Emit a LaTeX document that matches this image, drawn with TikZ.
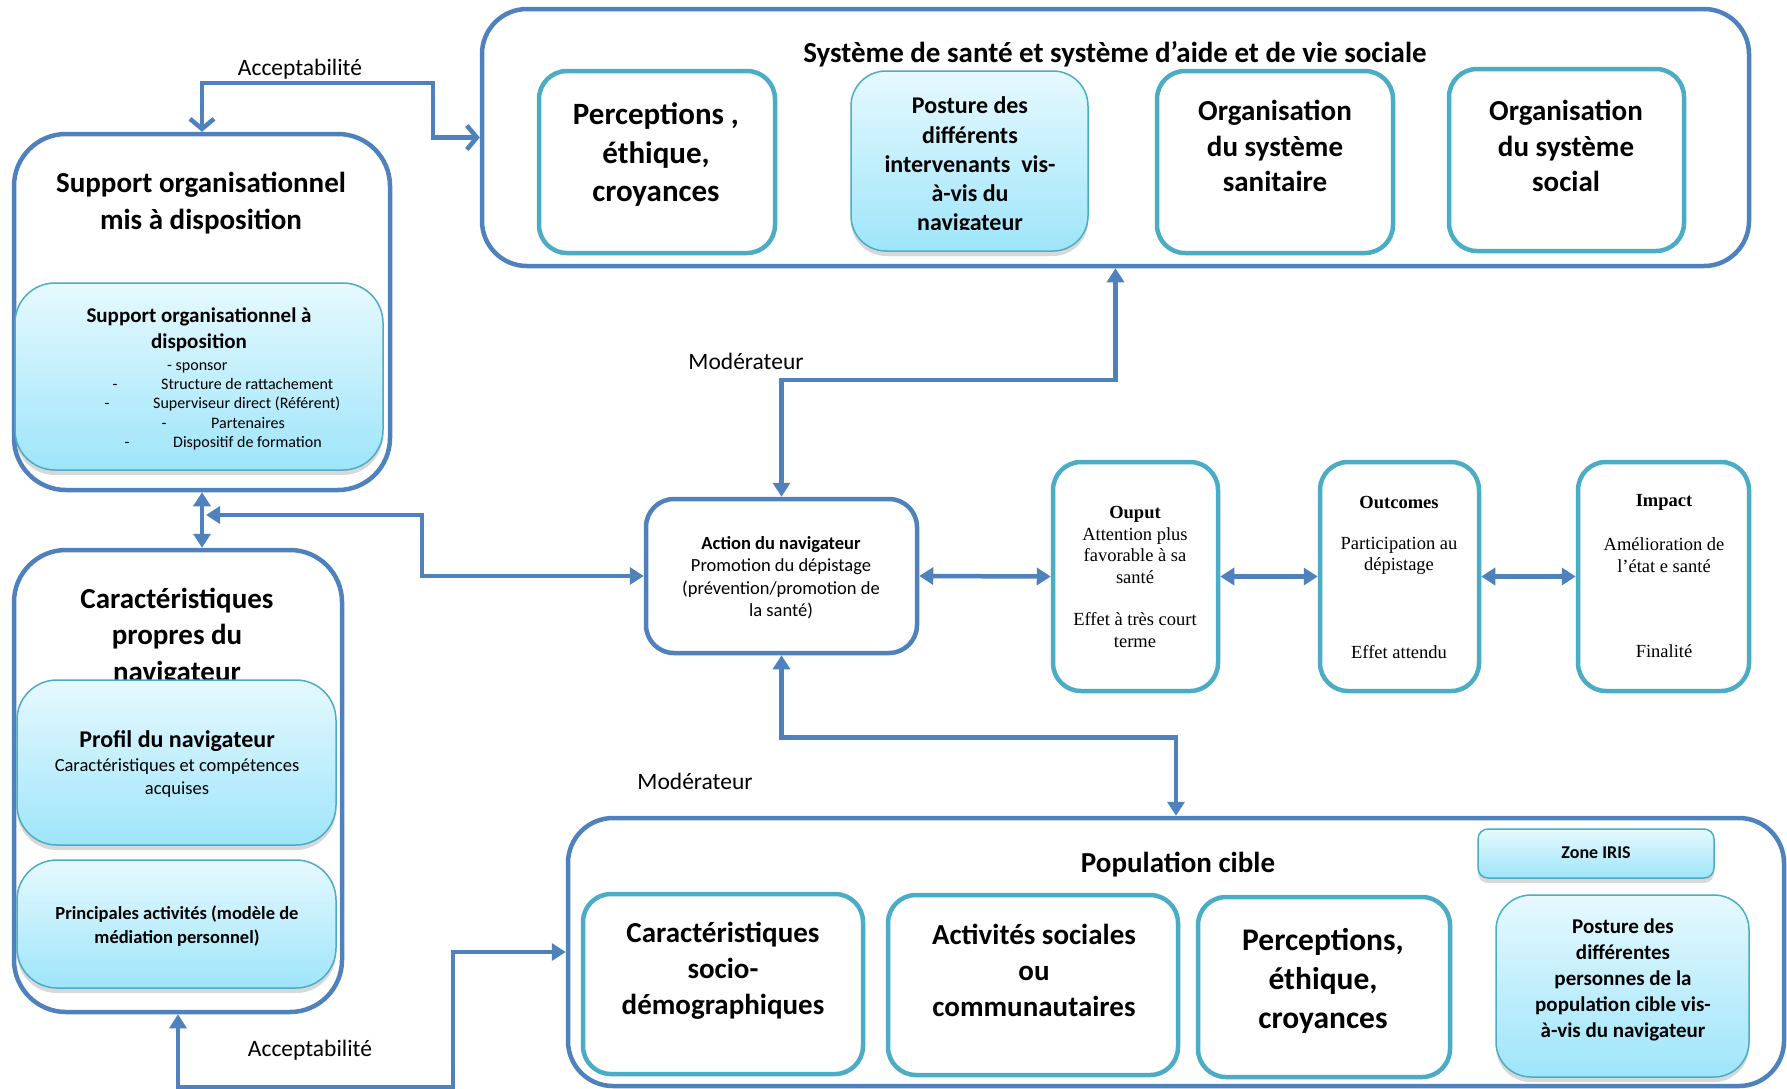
\documentclass[tikz,border=0pt]{standalone}
\usepackage{fontspec}
\setmainfont{Carlito}
\newfontfamily\timesf{Liberation Serif}
\usetikzlibrary{arrows.meta,shadows,calc}
\definecolor{lineblue}{HTML}{4F81BD}
\definecolor{accteal}{HTML}{4BACC6}
\definecolor{gradtop}{HTML}{E6F9FE}
\definecolor{gradbot}{HTML}{9EE5FA}
\newcommand\setfs[2]{\fontsize{#1pt}{#2pt}\selectfont}
\begin{document}
\begin{tikzpicture}[x=1pt,y=-1pt,
  outerbox/.style={draw=lineblue, line width=4.5pt, rounded corners=45pt, fill=white, inner sep=0pt},
  tealbox/.style={draw=accteal, line width=4.5pt, rounded corners=28pt, fill=white, inner sep=0pt},
  actbox/.style={draw=lineblue, line width=4.5pt, rounded corners=28pt, fill=white, inner sep=0pt},
  gradbox/.style={draw=accteal, line width=1.5pt, rounded corners=#1, top color=gradtop, bottom color=gradbot,
     drop shadow={shadow xshift=0pt, shadow yshift=-5pt, opacity=0.3}, inner sep=0pt},
  txt/.style={inner sep=0pt, align=center, text=black},
  conn/.style={draw=lineblue, line width=4.5pt},
  tris/.style={{Triangle[length=14pt,width=17pt]}-{Triangle[length=14pt,width=17pt]}},
  barbs/.style={{Straight Barb[length=10pt,width=24pt]}-{Straight Barb[length=10pt,width=24pt]}}
]
\fill[white] (0,0) rectangle (1787,1088);
\useasboundingbox (0,0) rectangle (1787,1088);

% ---------- top system box
\node[outerbox, minimum width=1267pt, minimum height=257pt] (sys) at (1115.5,137.5) {};
\node[txt, font=\bfseries\setfs{29}{35}] (systitle) at (1115,54) {Système de santé et système d’aide et de vie sociale};
\node[tealbox, minimum width=236pt, minimum height=182pt] (perc) at (657,162) {};
\node[txt, font=\bfseries\setfs{31}{38.5}] (perct) at (656,155) {Perceptions ,\\éthique,\\croyances};
\node[gradbox=35pt, minimum width=237pt, minimum height=180pt] (post) at (969.5,161) {};
\begin{scope}
\clip (851,71) rectangle (1088,229);
\node[txt, font=\bfseries\setfs{24}{29.3}] (postt) at (970,166) {Posture des\\différents\\intervenants\ \ vis-\\à-vis du\\navigateur};
\end{scope}
\node[tealbox, minimum width=236pt, minimum height=182pt] (orgsan) at (1275,162) {};
\node[txt, font=\bfseries\setfs{29}{35.3}] (orgsant) at (1275,146) {Organisation\\du système\\sanitaire};
\node[tealbox, minimum width=235pt, minimum height=182pt] (orgsoc) at (1566.5,160) {};
\node[txt, font=\bfseries\setfs{29}{35.3}] (orgsoct) at (1566,146) {Organisation\\du système\\social};

% ---------- support box
\node[outerbox, rounded corners=52pt, minimum width=376pt, minimum height=356pt] (sup) at (202,312) {};
\node[txt, font=\bfseries\setfs{29}{37}] (supt) at (201,203.5) {Support organisationnel\\mis à disposition};
\node[gradbox=40pt, minimum width=368pt, minimum height=187pt] (supin) at (199,376.5) {};
\node[txt, font=\bfseries\setfs{21}{25.5}] (supint) at (199,330) {Support organisationnel à\\disposition};
\node[txt, anchor=base west, font=\setfs{16}{19}] (l1) at (167,370) {- sponsor};
\node[txt, anchor=base, font=\setfs{16}{19}] (d2) at (115,389) {-};
\node[txt, anchor=base west, font=\setfs{16}{19}] (l2) at (161,389) {Structure de rattachement};
\node[txt, anchor=base, font=\setfs{16}{19}] (d3) at (107,408) {-};
\node[txt, anchor=base west, font=\setfs{16}{19}] (l3) at (153,408) {Superviseur direct (Référent)};
\node[txt, anchor=base, font=\setfs{16}{19}] (d4) at (164,428) {-};
\node[txt, anchor=base west, font=\setfs{16}{19}] (l4) at (211,428) {Partenaires};
\node[txt, anchor=base, font=\setfs{16}{19}] (d5) at (127,447) {-};
\node[txt, anchor=base west, font=\setfs{16}{19}] (l5) at (173,447) {Dispositif de formation};

% ---------- navigator characteristics box
\node[outerbox, rounded corners=52pt, minimum width=328pt, minimum height=462pt] (char) at (178,781) {};
\node[txt, font=\bfseries\setfs{29}{36.5}] (chart) at (177,637) {Caractéristiques\\propres du\\navigateur};
\node[gradbox=40pt, minimum width=319pt, minimum height=165pt] (prof) at (176.5,762.5) {};
\node[txt, font=\bfseries\setfs{24}{28}] (proft1) at (177,741) {Profil du navigateur};
\node[txt, font=\setfs{18.5}{22.5}] (proft2) at (177,778) {Caractéristiques et compétences\\acquises};
\node[gradbox=40pt, minimum width=319pt, minimum height=128pt] (princ) at (176.5,924) {};
\node[txt, font=\bfseries\setfs{18.5}{24}] (princt) at (177,926) {Principales activités (modèle de\\médiation personnel)};

% ---------- action and results
\node[actbox, minimum width=271pt, minimum height=154pt] (act) at (781.5,576) {};
\node[txt, font=\bfseries\setfs{18.5}{22.5}] (actt1) at (781,545) {Action du navigateur};
\node[txt, font=\setfs{18.5}{22.5}] (actt2) at (781,589) {Promotion du dépistage\\(prévention/promotion de\\la santé)};

\node[tealbox, minimum width=165pt, minimum height=229pt] (out) at (1135.5,576.5) {};
\node[txt, font=\timesf\setfs{18.5}{21.5}] (outt1) at (1135,545) {\textbf{Ouput}\\Attention plus\\favorable à sa\\santé};
\node[txt, font=\timesf\setfs{18.5}{21.5}] (outt2) at (1135,630) {Effet à très court\\terme};
\node[tealbox, minimum width=159pt, minimum height=229pt] (outc) at (1399.5,576.5) {};
\node[txt, font=\timesf\bfseries\setfs{18.5}{21.5}] (outct1) at (1399,502) {Outcomes};
\node[txt, font=\timesf\setfs{18.5}{21.5}] (outct2) at (1399,556) {Participation au\\dépistage};
\node[txt, font=\timesf\setfs{18.5}{21.5}] (outct3) at (1399,652) {Effet attendu};
\node[tealbox, minimum width=171pt, minimum height=229pt] (imp) at (1663.5,576.5) {};
\node[txt, font=\timesf\bfseries\setfs{18.5}{21.5}] (impt1) at (1664,502) {Impact};
\node[txt, font=\timesf\setfs{18.5}{21.5}] (impt2) at (1664,555) {Amélioration de\\l’état e santé};
\node[txt, font=\timesf\setfs{18.5}{21.5}] (impt3) at (1664,651) {Finalité};

% ---------- population box
\node[outerbox, minimum width=1216pt, minimum height=268pt] (pop) at (1176,952) {};
\node[txt, font=\bfseries\setfs{29}{35}] (popt) at (1178,865) {Population cible};
\node[tealbox, minimum width=280pt, minimum height=180pt] (pcar) at (723,984) {};
\node[txt, font=\bfseries\setfs{29}{36}] (pcart) at (723,971) {Caractéristiques\\socio-\\démographiques};
\node[tealbox, minimum width=290pt, minimum height=180pt] (pact) at (1033,985) {};
\node[txt, font=\bfseries\setfs{29}{36}] (pactt) at (1034,970) {Activités sociales\\ou\\communautaires};
\node[tealbox, minimum width=252pt, minimum height=180pt] (pper) at (1324,987) {};
\node[txt, font=\bfseries\setfs{31.5}{39}] (ppert) at (1323,981) {Perceptions,\\éthique,\\croyances};
\node[gradbox=10pt, minimum width=236pt, minimum height=49pt] (zone) at (1596,853.5) {};
\node[txt, font=\bfseries\setfs{18}{22}] (zonet) at (1596,853) {Zone IRIS};
\node[gradbox=35pt, minimum width=253pt, minimum height=182pt] (ppost) at (1622.5,986) {};
\node[txt, font=\bfseries\setfs{21}{26}] (ppostt) at (1623,980) {Posture des\\différentes\\personnes de la\\population cible vis-\\à-vis du navigateur};

% ---------- connectors
\coordinate (vm) at (206,515);
\draw[conn, barbs] (sup.north) -- ++(0,-49) -| ($(sys.west)+(-47,0)$) -- (sys.west);
\draw[conn, tris] (sup.south) -- (sup.south |- char.north);
\draw[conn, tris] (act.west) -- ++(-222,0) |- (vm);
\draw[conn, tris] (act.north) -- ++(0,-117) -| (sys.south);
\draw[conn, tris] (act.south) -- ++(0,82) -| (pop.north);
\draw[conn, tris] (act.east) -- (out.west);
\draw[conn, tris] (out.east) -- (outc.west);
\draw[conn, tris] (outc.east) -- (imp.west);
\draw[conn, tris] (char.south) -- ++(0,73) -| ($(pop.west)+(-113,0)$) -- (pop.west);

% ---------- labels
\node[txt, font=\setfs{23.5}{28}] (acc1) at (300,69) {Acceptabilité};
\node[txt, font=\setfs{23.5}{28}] (mod1) at (746,361) {Modérateur};
\node[txt, font=\setfs{23.5}{28}] (mod2) at (695,781) {Modérateur};
\node[txt, font=\setfs{23.5}{28}] (acc2) at (310,1050) {Acceptabilité};
\end{tikzpicture}
\end{document}
